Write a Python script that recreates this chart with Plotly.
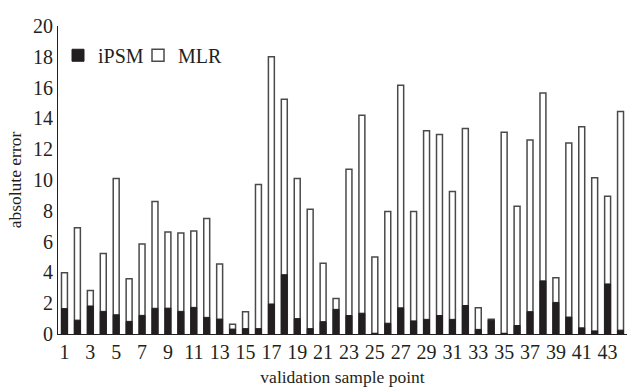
import plotly.graph_objects as go

samples = list(range(1, 45))
ipsm = [1.65, 0.9, 1.82, 1.47, 1.25, 0.82, 1.21, 1.67, 1.68, 1.47, 1.73, 1.08, 0.97, 0.32, 0.35,
        0.35, 1.95, 3.85, 1.0, 0.35, 0.8, 1.6, 1.2, 1.35, 0.05, 0.7, 1.7, 0.85, 0.95, 1.2,
        0.95, 1.85, 0.3, 0.9, 0.05, 0.55, 1.45, 3.45, 2.05, 1.1, 0.4, 0.2, 3.25, 0.25]
mlr = [3.97, 6.9, 2.83, 5.22, 10.1, 3.58, 5.85, 8.6, 6.62, 6.56, 6.69, 7.5, 4.55, 0.63, 1.45,
       9.7, 18.0, 15.25, 10.1, 8.1, 4.6, 2.3, 10.7, 14.2, 5.0, 7.95, 16.15, 7.95, 13.2, 12.95,
       9.25, 13.35, 1.7, 0.95, 13.1, 8.3, 12.6, 15.65, 3.65, 12.4, 13.45, 10.15, 8.95, 14.45]
tick_vals = list(range(1, 45, 2))

font_family = "'Liberation Serif', 'Times New Roman', 'DejaVu Serif', serif"

fig = go.Figure()
fig.add_trace(go.Bar(x=samples, y=mlr, name="MLR", width=0.46, legend="legend2",
                     marker=dict(color="white", line=dict(color="#4a4a4a", width=1.5))))
fig.add_trace(go.Bar(x=samples, y=ipsm, name="iPSM", width=0.46, legend="legend",
                     marker=dict(color="#231f20", line=dict(color="#231f20", width=1))))

leg_common = dict(orientation="h", y=0.905, xanchor="left", yanchor="middle",
                  font=dict(size=20), itemwidth=30, bgcolor="rgba(0,0,0,0)")

fig.update_layout(
    width=627, height=390,
    margin=dict(l=58, r=0, t=26, b=56),
    barmode="overlay",
    plot_bgcolor="white", paper_bgcolor="white",
    font=dict(family=font_family, color="#231f20", size=20),
    showlegend=True,
    legend=dict(x=0.0, **leg_common),
    legend2=dict(x=0.1406, **leg_common),
    xaxis=dict(range=[0.5, 44.5], tickmode="array", tickvals=tick_vals,
               ticktext=[str(v) for v in tick_vals], showgrid=False, zeroline=False,
               showline=True, linecolor="#231f20", linewidth=1.2, ticks="",
               title=dict(text="validation sample point", font=dict(size=17.5), standoff=8)),
    yaxis=dict(range=[0, 20], dtick=2, showgrid=False, zeroline=False,
               showline=True, linecolor="#231f20", linewidth=1.2, ticks="",
               title=dict(text="absolute error", font=dict(size=17.5), standoff=6)),
)

fig.write_html("out.html")
